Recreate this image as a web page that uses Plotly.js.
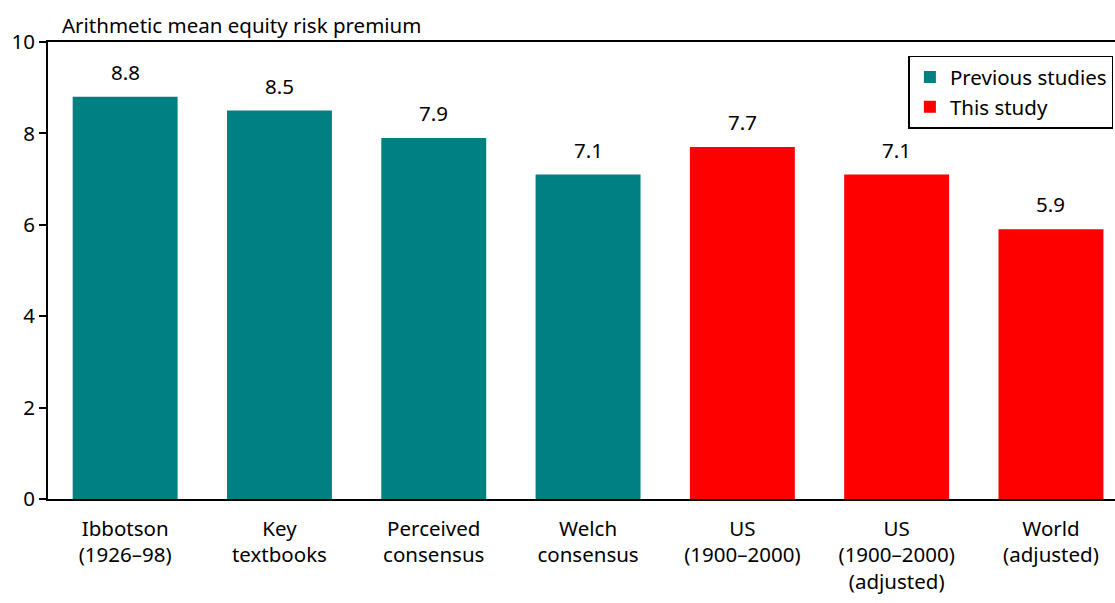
<!DOCTYPE html>
<html><head><meta charset="utf-8">
<script src="https://cdn.plot.ly/plotly-3.0.1.min.js"></script>
<style>body{margin:0}#c{width:1115px;height:603px}</style>
</head><body><div id="c"></div>
<script>
const prevCats = ["Ibbotson<br>(1926–98)", "Key<br>textbooks", "Perceived<br>consensus", "Welch<br>consensus"];
const prevVals = [8.8, 8.5, 7.9, 7.1];
const thisCats = ["US<br>(1900–2000)", "US<br>(1900–2000)<br>(adjusted)", "World<br>(adjusted)"];
const thisVals = [7.7, 7.1, 5.9];
const allCats = prevCats.concat(thisCats);
const allVals = prevVals.concat(thisVals);
const fontFam = "Noto Sans, Open Sans, sans-serif";
const fs = 20.5;

const traces = [
  {type:"bar", name:"Previous studies", x:prevCats, y:prevVals, marker:{color:"#008080"}, width:0.68},
  {type:"bar", name:"This study", x:thisCats, y:thisVals, marker:{color:"#FF0000"}, width:0.68}
];
const ann = allCats.map((c,i)=>({x:c, y:allVals[i], xref:"x", yref:"y", text:allVals[i].toFixed(1),
  showarrow:false, yanchor:"bottom", yshift:9, font:{size:fs, color:"#000", family:fontFam}}));
ann.push({xref:"paper", yref:"paper", x:(60-48)/1067, y:1, xanchor:"left", yanchor:"bottom", yshift:1,
  text:"Arithmetic mean equity risk premium", showarrow:false, font:{size:fs, color:"#000", family:fontFam}});

const layout = {
  width:1115, height:603,
  margin:{l:48, r:0, t:42, b:104},
  paper_bgcolor:"#fff", plot_bgcolor:"#fff",
  barmode:"overlay",
  showlegend:true,
  legend:{x:0.9985, xanchor:"right", y:0.97, yanchor:"top", bordercolor:"#000", borderwidth:1.5,
    bgcolor:"#fff", font:{size:fs, color:"#000", family:fontFam}, traceorder:"normal"},
  font:{family:fontFam, color:"#000"},
  xaxis:{type:"category", categoryorder:"array", categoryarray:allCats, range:[-0.5, 6.415],
    showline:true, linecolor:"#000", linewidth:2, mirror:true, ticks:"", showgrid:false,
    ticklabelstandoff:10,
    tickfont:{size:fs, color:"#000", family:fontFam}},
  yaxis:{range:[0,10], dtick:2, showline:true, linecolor:"#000", linewidth:2, ticks:"outside",
    ticklen:7, tickwidth:1.5, tickcolor:"#000", showgrid:false, zeroline:false,
    tickfont:{size:fs, color:"#000", family:fontFam}},
  annotations:ann
};
Plotly.newPlot("c", traces, layout, {displayModeBar:false});
</script></body></html>
